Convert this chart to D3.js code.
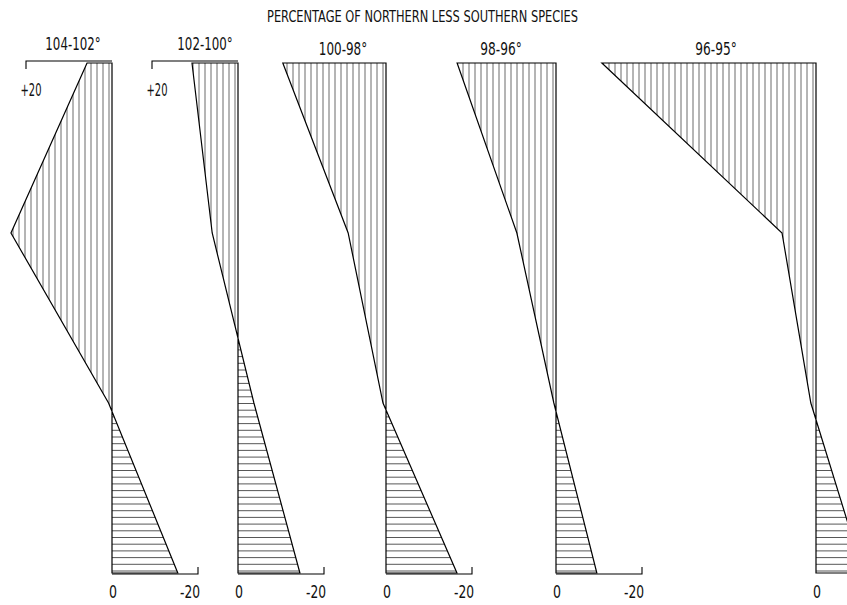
<!DOCTYPE html>
<html>
<head>
<meta charset="utf-8">
<script src="https://cdn.jsdelivr.net/npm/d3@7"></script>
<style>
  body { margin: 0; background: #fff; }
  text { font-family: "Liberation Sans Narrow", "DejaVu Sans Condensed", "Liberation Sans", sans-serif; fill: #111; }
</style>
</head>
<body>
<script>
// ---- data ----
const title = "PERCENTAGE OF NORTHERN LESS SOUTHERN SPECIES";
const panelNames = ["104-102°", "102-100°", "100-98°", "98-96°", "96-95°"];
const levels = ["L1", "L2", "L3", "L4"];           // vertical positions (top to bottom)
const values104_102 = [5.8, 23.5, 0.8, -15.3];
const values102_100 = [10.7, 6.0, -3.7, -14.4];
const values100_98  = [24.0, 8.8, 0.7, -16.5];
const values98_96   = [23.0, 9.1, 0.5, -9.5];
const values96_95   = [49.8, 7.9, 1.2, -11.0];
const series = [values104_102, values102_100, values100_98, values98_96, values96_95];
const posTickLabel = "+20";
const zeroLabel = "0";
const negTickLabel = "-20";
const tickValue = 20;

// ---- layout ----
const W = 847, H = 605;
const axisX = [112, 238, 386, 556, 816];
const labelX = [73, 205, 343, 501, 716];
const labelY = [50, 50, 55, 55, 55];
const showTopBracket = [true, true, false, false, false];
const showBottomBracket = [true, true, true, true, false];
const pxPerUnit = 4.3;

const svg = d3.select("body").append("svg").attr("width", W).attr("height", H);
const defs = svg.append("defs");

svg.append("text")
  .attr("x", 422.5).attr("y", 22)
  .attr("text-anchor", "middle")
  .attr("font-size", 15)
  .attr("textLength", 311).attr("lengthAdjust", "spacingAndGlyphs")
  .text(title);

const y = d3.scalePoint().domain(levels).range([63, 573]);
const yTop = y(levels[0]), yBot = y(levels[levels.length - 1]);

function narrowText(g, str, cx, cy, size, width) {
  return g.append("text")
    .attr("x", cx - width / 2).attr("y", cy)
    .attr("font-size", size)
    .attr("textLength", width).attr("lengthAdjust", "spacingAndGlyphs")
    .text(str);
}

panelNames.forEach((name, i) => {
  const ax = axisX[i];
  const x = d3.scaleLinear().domain([0, tickValue]).range([ax, ax - tickValue * pxPerUnit]);
  const data = levels.map((l, j) => ({ l, v: series[i][j] }));
  const area = d3.area().y(d => y(d.l)).x0(x(0)).x1(d => x(d.v)).curve(d3.curveLinear);
  const g = svg.append("g");
  const cid = "clip" + i;
  defs.append("clipPath").attr("id", cid).append("path").attr("d", area(data));

  const hatch = g.append("g").attr("clip-path", `url(#${cid})`);
  const maxV = d3.max(series[i]), minV = d3.min(series[i]);
  // vertical hatching for positive (northern) part
  const vx = d3.range(ax - 3, x(maxV) - 1, -6);
  hatch.selectAll("line.v").data(vx).join("line")
    .attr("class", "v")
    .attr("x1", d => d).attr("x2", d => d)
    .attr("y1", yTop).attr("y2", yBot)
    .attr("stroke", "#6a6a6a").attr("stroke-width", 1);
  // horizontal hatching for negative (southern) part
  const hy = d3.range(yBot - 2, yTop, -6.7);
  hatch.selectAll("line.h").data(hy).join("line")
    .attr("class", "h")
    .attr("x1", ax).attr("x2", x(Math.min(minV, 0)) + 2)
    .attr("y1", d => d).attr("y2", d => d)
    .attr("stroke", "#444").attr("stroke-width", 0.9);

  // outline
  g.append("path").attr("d", area(data))
    .attr("fill", "none").attr("stroke", "#000")
    .attr("stroke-width", 1.2).attr("stroke-linejoin", "miter");

  // panel label (degree sign included)
  const lw = (name.length - 1) * 6.9 + 7;
  narrowText(g, name, labelX[i], labelY[i], 17, lw);

  // top bracket (+20)
  if (showTopBracket[i]) {
    const bx = x(tickValue);
    g.append("path")
      .attr("d", `M${bx},${yTop + 6} L${bx},${yTop - 2} L${ax},${yTop - 2}`)
      .attr("fill", "none").attr("stroke", "#000").attr("stroke-width", 1.1);
    narrowText(g, posTickLabel, bx + 5, yTop + 33, 17, 21);
  }
  // bottom bracket (0 ... -20)
  if (showBottomBracket[i]) {
    const bx = x(-tickValue);
    g.append("path")
      .attr("d", `M${ax},${yBot + 1} L${bx},${yBot + 1} L${bx},${yBot - 6}`)
      .attr("fill", "none").attr("stroke", "#000").attr("stroke-width", 1.1);
    narrowText(g, negTickLabel, bx - 8, yBot + 25, 17, 20);
  }
  narrowText(g, zeroLabel, ax + 1, yBot + 25, 17, 8);
});
</script>
</body>
</html>
